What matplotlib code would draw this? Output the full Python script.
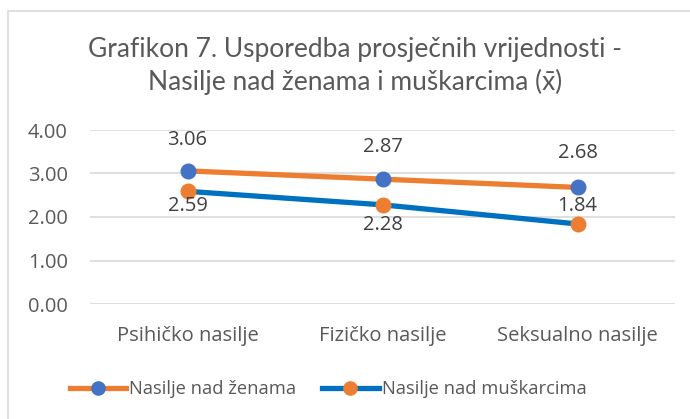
import matplotlib
matplotlib.use("Agg")
import matplotlib.pyplot as plt
from matplotlib.patches import Rectangle
from matplotlib.lines import Line2D

categories = ["Psihičko nasilje", "Fizičko nasilje", "Seksualno nasilje"]
zene = [3.06, 2.87, 2.68]
muskarci = [2.59, 2.28, 1.84]
yticks = [0.0, 1.0, 2.0, 3.0, 4.0]
title = "Grafikon 7. Usporedba prosječnih vrijednosti -\nNasilje nad ženama i muškarcima (x̄)"
series_names = ["Nasilje nad ženama", "Nasilje nad muškarcima"]

ORANGE = "#ED7D31"
BLUE_M = "#4472C4"
BLUE_L = "#0070C0"
TXT = "#595959"
FONT = ["Open Sans", "DejaVu Sans"]
FS = 14.5

W, H = 690, 419
fig = plt.figure(figsize=(W / 100, H / 100), dpi=100)
fig.patch.set_facecolor("white")

fig.add_artist(Rectangle((8 / W, -0.1), 1.2, 1 - 11 / H + 0.1, transform=fig.transFigure,
                         fill=False, edgecolor="#D9D9D9", linewidth=1.2))

ax = fig.add_axes([90 / W, (H - 304) / H, (675 - 90) / W, (304 - 130) / H])
x = list(range(len(categories)))
ax.plot(x, zene, color=ORANGE, lw=3.8, marker="o", ms=10.5, mfc=BLUE_M, mec=BLUE_M,
        solid_capstyle="round", zorder=3)
ax.plot(x, muskarci, color=BLUE_L, lw=3.8, marker="o", ms=10.5, mfc=ORANGE, mec=ORANGE,
        solid_capstyle="round", zorder=3)

ax.set_xlim(-0.5, len(categories) - 0.5)
ax.set_ylim(0, 4)
ax.set_yticks(yticks)
ax.set_yticklabels([f"{v:.2f}" for v in yticks])
ax.set_xticks(x)
ax.set_xticklabels(categories)
ax.grid(axis="y", color="#D9D9D9", lw=1.2)
ax.set_axisbelow(True)
for s in ax.spines.values():
    s.set_visible(False)
ax.tick_params(length=0, labelsize=FS, labelcolor=TXT)
ax.tick_params(axis="x", pad=16)
ax.tick_params(axis="y", pad=16)
for lbl in ax.get_xticklabels() + ax.get_yticklabels():
    lbl.set_family(FONT)

# data labels (pixel offsets of label centres)
z_off = [31, 32, 34]
m_off = [-15, -20, 18]
for i, v in enumerate(zene):
    ax.annotate(f"{v:.2f}", (i, v), xytext=(0, z_off[i] * 0.72), textcoords="offset points",
                ha="center", va="center", fontsize=FS, color="#404040", family=FONT)
for i, v in enumerate(muskarci):
    ax.annotate(f"{v:.2f}", (i, v), xytext=(0, m_off[i] * 0.72), textcoords="offset points",
                ha="center", va="center", fontsize=FS, color="#404040", family=FONT)

fig.text(355 / W, 1 - 66 / H, title, ha="center", va="center", fontsize=19,
         color=TXT, family=["Lato", "DejaVu Sans"], linespacing=1.3)

handles = [
    Line2D([], [], color=ORANGE, lw=3.8, marker="o", ms=9.5, mfc=BLUE_M, mec=BLUE_M),
    Line2D([], [], color=BLUE_L, lw=3.8, marker="o", ms=9.5, mfc=ORANGE, mec=ORANGE),
]
leg = fig.legend(handles, series_names, loc="center", bbox_to_anchor=(328 / W, 1 - 389 / H),
                 ncol=2, frameon=False, prop={"family": FONT, "size": 13.2},
                 handlelength=3.1, handletextpad=0.15, columnspacing=1.4)
for t in leg.get_texts():
    t.set_color(TXT)

fig.savefig("out.png", dpi=100)
